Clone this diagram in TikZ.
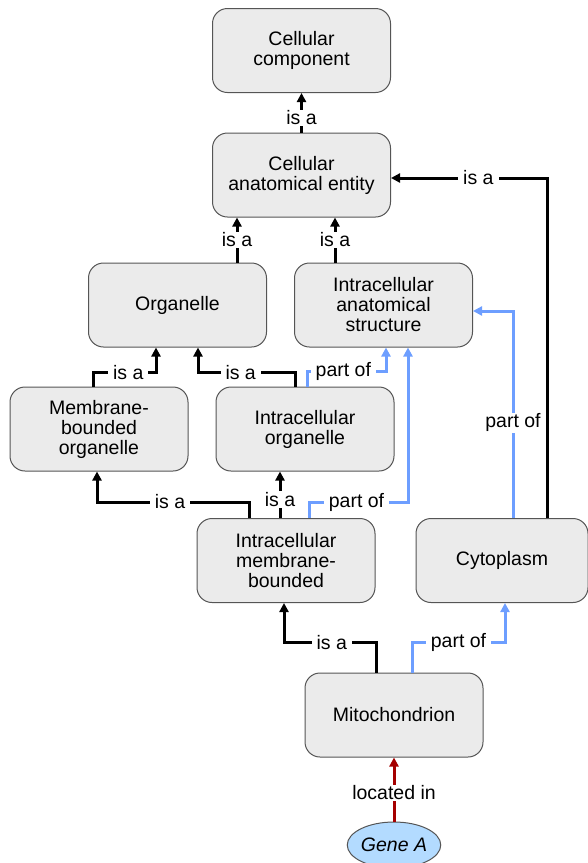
\documentclass[tikz,border=0pt]{standalone}
\usepackage{fontspec}
\setmainfont{Liberation Sans}
\usetikzlibrary{arrows.meta,shapes.geometric}
\definecolor{goblue}{HTML}{6D9EFF}
\definecolor{gored}{HTML}{A50000}
\definecolor{gogray}{HTML}{555555}
\definecolor{golight}{HTML}{EBEBEB}
\definecolor{gogene}{HTML}{B3DBFF}

\begin{document}
\begin{tikzpicture}[x=1pt,y=-1pt,
   term/.style={draw=gogray,line width=1pt,fill=golight,rounded corners=15pt,
                minimum width=178pt,minimum height=84pt,align=center,
                font=\fontsize{19.5}{20}\selectfont},
   gene/.style={ellipse,draw=gogray,line width=1pt,fill=gogene,inner sep=0pt,
                minimum width=91pt,minimum height=46pt,
                font=\fontsize{19.5}{20}\selectfont\itshape},
   rel/.style={fill=white,text=black,inner xsep=5pt,inner ysep=1pt,
               font=\fontsize{19.5}{20}\selectfont},
   isa/.style={-{Triangle[length=9pt,width=9pt]},line width=3pt,black},
   partof/.style={isa,goblue},
   locin/.style={isa,gored}]
  \useasboundingbox (0,0) rectangle (588,863);
  % terms
  \node[term] (CC) at (301.5,50.5) {Cellular\\component};
  \node[term] (CAE) at (301.5,175) {Cellular\\anatomical entity};
  \node[term] (Org) at (177.5,305) {Organelle};
  \node[term] (IAS) at (383.5,305) {Intracellular\\anatomical\\structure};
  \node[term] (MBO) at (99,429) {Membrane-\\bounded\\organelle};
  \node[term] (IO) at (305,429) {Intracellular\\organelle};
  \node[term] (IMB) at (286,560.5) {Intracellular\\membrane-\\bounded};
  \node[term,minimum width=172pt] (Cyt) at (502,560.5) {Cytoplasm};
  \node[term] (Mito) at (394,715) {Mitochondrion};
  \node[gene] (Gene) at (394,845) {Gene A};
  % relations
  \draw[isa] (CAE.north) -- node[rel,pos=0.375]{is a} (CC.south);
  \draw[isa] ([xshift=59.5pt]Org.north) -- node[rel]{is a}
        ([xshift=59.5pt]Org.north |- CAE.south);
  \draw[isa] ([xshift=-48.5pt]IAS.north) -- node[rel]{is a}
        ([xshift=-48.5pt]IAS.north |- CAE.south);
  \draw[isa] ([xshift=45pt]Cyt.north) |- node[rel,pos=0.72]{is a}
        ([yshift=-3pt]CAE.east);
  \draw[partof] ([xshift=11pt]Cyt.north) |- node[rel,pos=0.23]{part of}
        ([yshift=-6pt]IAS.east);
  \draw[isa] ([xshift=-6pt]MBO.north) -- ++(0,-14) -|
        node[rel,pos=0.28]{is a} ([xshift=-21.5pt]Org.south);
  \draw[isa] ([xshift=-10pt]IO.north) -- ++(0,-14) -|
        node[rel,pos=0.28]{is a} ([xshift=20.5pt]Org.south);
  \draw[partof] ([xshift=2pt]IO.north) -- ++(0,-15) -|
        node[rel,pos=0.23]{part of} ([xshift=2.5pt]IAS.south);
  \draw[isa] ([xshift=-37pt]IMB.north) -- ++(0,-16) -|
        node[rel,pos=0.26]{is a} ([xshift=-2pt]MBO.south);
  \draw[isa] ([xshift=-6pt]IMB.north) -- node[rel,pos=0.4]{is a}
        ([xshift=-6pt]IMB.north |- IO.south);
  \draw[partof] ([xshift=23pt]IMB.north) -- ++(0,-16) -|
        node[rel,pos=0.24]{part of} ([xshift=24.5pt]IAS.south);
  \draw[isa] ([xshift=-18pt]Mito.north) -- ++(0,-30) -|
        node[rel,pos=0.24]{is a} ([xshift=-2pt]IMB.south);
  \draw[partof] ([xshift=18pt]Mito.north) -- ++(0,-30) -|
        node[rel,pos=0.25]{part of} ([xshift=3pt]Cyt.south);
  \draw[locin] (Gene.north) -- node[rel,pos=0.45]{located in} (Mito.south);
\end{tikzpicture}
\end{document}
